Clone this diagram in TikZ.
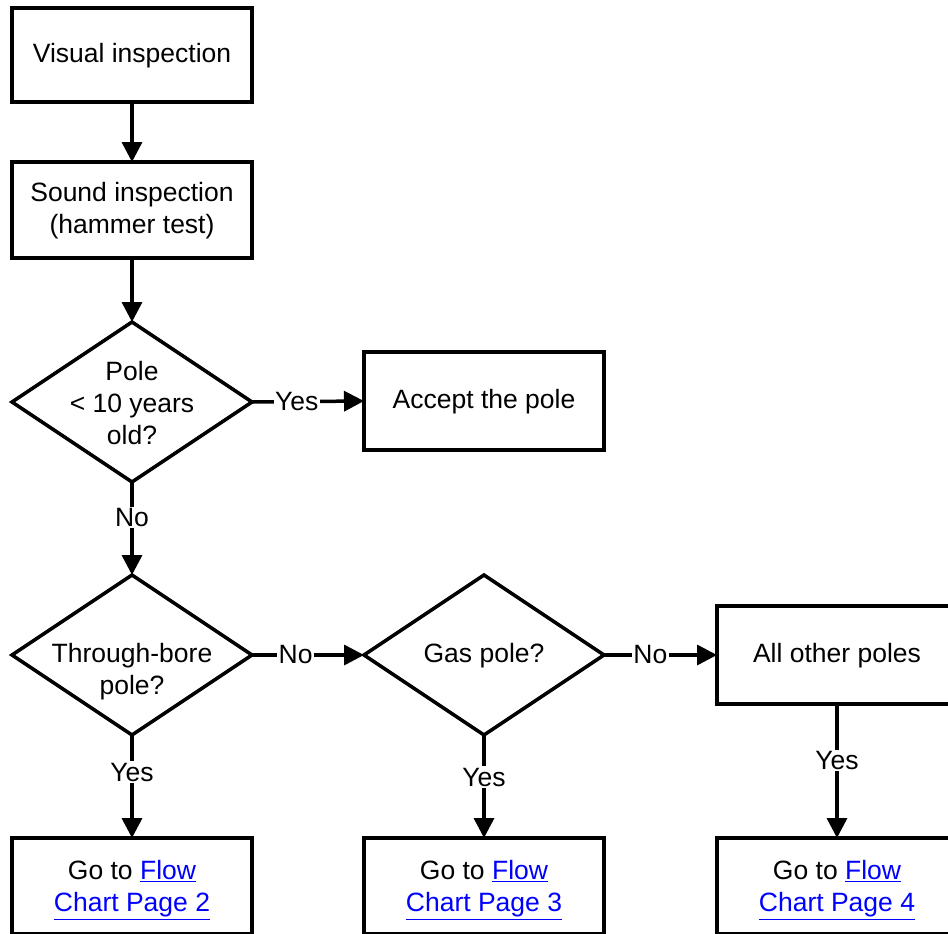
\documentclass[tikz,border=0pt]{standalone}
\usepackage{fontspec}
\setmainfont{Liberation Sans}
\usetikzlibrary{arrows.meta,shapes.geometric}
\tikzset{
  box/.style={draw, line width=3.5pt, rectangle, minimum width=240pt, inner sep=0pt, outer sep=0pt},
  dia/.style={draw, line width=3.5pt, diamond, minimum width=240pt, minimum height=160pt, inner sep=0pt, outer sep=0pt},
  txt/.style={align=center, font=\fontsize{26.5}{32}\selectfont, inner sep=0pt},
  lbl/.style={fill=white, font=\fontsize{26.5}{32}\selectfont, inner sep=1.5pt},
  arr/.style={line width=3.5pt, -{Triangle[length=20pt,width=20pt]}},
}
\newcommand{\lnk}[1]{\textcolor{blue}{\underline{#1}}}
\begin{document}
\begin{tikzpicture}[x=1pt,y=-1pt]
\useasboundingbox[fill=white] (0,0) rectangle (948,934);
% boxes
\node[box, minimum height=94pt] (vis) at (132,55) {};
\node[txt] (vist) at (132,56) {Visual inspection};
\node[box, minimum height=96pt] (snd) at (132,210) {};
\node[txt] (sndt) at (132,211) {Sound inspection\\(hammer test)};
\node[dia] (d1) at (132,402) {};
\node[txt] (d1t) at (132,403) {Pole\\< 10 years\\old?};
\node[box, minimum height=98pt] (acc) at (484,401) {};
\node[txt] (acct) at (484,402) {Accept the pole};
\node[dia] (d2) at (132,655) {};
\node[txt] (d2t) at (132,672) {Through-bore\\pole?};
\node[dia] (d3) at (484,655) {};
\node[txt] (d3t) at (484,656) {Gas pole?};
\node[box, minimum height=98pt] (oth) at (837,655) {};
\node[txt] (otht) at (837,656) {All other poles};
\node[box, minimum height=96pt] (p2) at (132,886) {};
\node[txt] (p2t) at (132,890) {Go to \lnk{Flow}\\\lnk{Chart Page 2}};
\node[box, minimum height=96pt] (p3) at (484,886) {};
\node[txt] (p3t) at (484,890) {Go to \lnk{Flow}\\\lnk{Chart Page 3}};
\node[box, minimum height=96pt] (p4) at (837,886) {};
\node[txt] (p4t) at (837,890) {Go to \lnk{Flow}\\\lnk{Chart Page 4}};
% connectors
\draw[arr] (vis.south) -- (snd.north);
\draw[arr] (snd.south) -- (d1.north);
\draw[arr] (d1.east) -- node[lbl, pos=0.4] {Yes} (acc.west);
\draw[arr] (d1.south) -- node[lbl, pos=0.38] {No} (d2.north);
\draw[arr] (d2.east) -- node[lbl, pos=0.39] {No} (d3.west);
\draw[arr] (d3.east) -- node[lbl, pos=0.41] {No} (oth.west);
\draw[arr] (d2.south) -- node[lbl, pos=0.36] {Yes} (p2.north);
\draw[arr] (d3.south) -- node[lbl, pos=0.41] {Yes} (p3.north);
\draw[arr] (oth.south) -- node[lbl, pos=0.42] {Yes} (p4.north);
\end{tikzpicture}
\end{document}
